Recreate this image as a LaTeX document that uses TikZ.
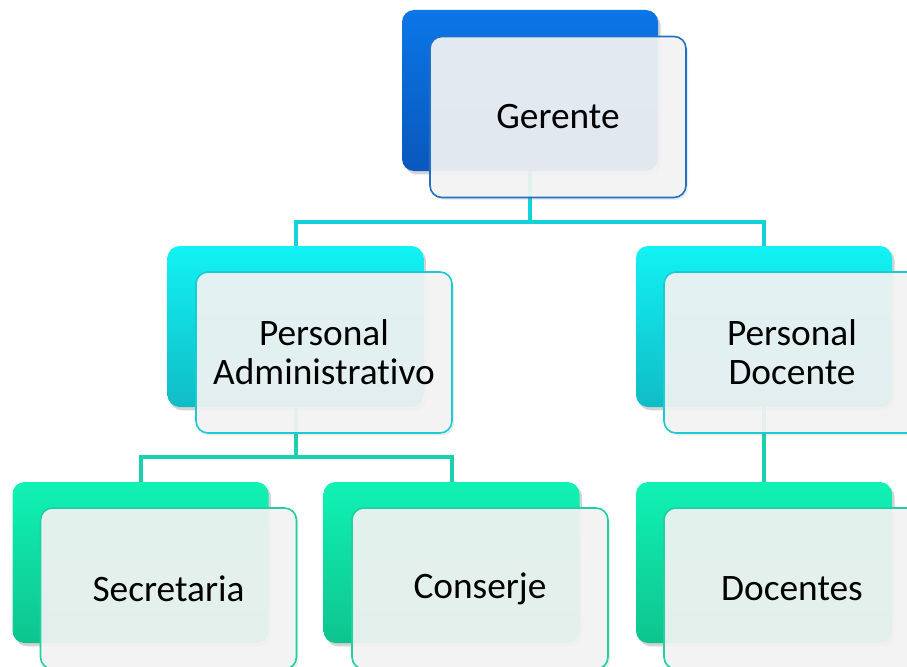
\documentclass[tikz,border=0pt]{standalone}
\usepackage{fontspec}
\setmainfont[Ligatures={NoCommon}]{Carlito}
\usetikzlibrary{shadows}
\definecolor{blueT}{HTML}{0B76E8}
\definecolor{blueB}{HTML}{0A58BC}
\definecolor{cyanT}{HTML}{12F2F4}
\definecolor{cyanB}{HTML}{10BCC6}
\definecolor{greenT}{HTML}{10F2B4}
\definecolor{greenB}{HTML}{0EC48E}
\definecolor{blueL}{HTML}{2070C8}
\definecolor{cyanL}{HTML}{18CCD4}
\definecolor{greenL}{HTML}{20D0A2}
\definecolor{conA}{HTML}{14D2DA}
\definecolor{conB}{HTML}{1CCFAE}
\definecolor{frontfill}{HTML}{F4F4F4}
\pgfdeclarelayer{bg}
\pgfsetlayers{bg,main}
\begin{document}
\begin{tikzpicture}[x=0.75pt,y=-0.75pt,
  box/.style={minimum width=192pt, minimum height=120.75pt, rounded corners=9pt, inner sep=0pt},
  backbox/.style={box, drop shadow={shadow xshift=2pt, shadow yshift=-2.5pt, opacity=0.35}},
  bluebox/.style={backbox, top color=blueT, bottom color=blueB},
  cyanbox/.style={backbox, top color=cyanT, bottom color=cyanB},
  greenbox/.style={backbox, top color=greenT, bottom color=greenB},
  frontbox/.style={box, fill=frontfill, fill opacity=0.92, text opacity=1, line width=1.2pt,
     drop shadow={shadow xshift=1.5pt, shadow yshift=-2pt, opacity=0.15},
     align=center, font=\fontsize{28}{29}\selectfont},
  conn/.style={line width=3pt}
]
\useasboundingbox (0,0) rectangle (907,667);
% back boxes
\node[bluebox]  (gb)  at (530,90.5) {};
\node[cyanbox]  (pab) at (295.5,326.5) {};
\node[cyanbox]  (pdb) at (764,326.5) {};
\node[greenbox] (sb)  at (140.5,562.5) {};
\node[greenbox] (cb)  at (451.5,562.5) {};
\node[greenbox] (db)  at (764,562.5) {};
% front boxes
\node[frontbox, draw=blueL]  (g)  at (558,117) {Gerente};
\node[frontbox, draw=cyanL]  (pa) at (324,352.5) {Personal\\Administrativo};
\node[frontbox, draw=cyanL]  (pd) at (792,352.5) {Personal\\Docente};
\node[frontbox, draw=greenL] (s)  at (168.5,588.5) {Secretaria};
\node[frontbox, draw=greenL] (c)  at (480,588.5) {Conserje};
\node[frontbox, draw=greenL] (d)  at (792,588.5) {Docentes};
% connectors
\begin{pgfonlayer}{bg}
\coordinate (bus1) at (530,222);
\coordinate (bus2) at (295.5,457);
\draw[conn, conA] (gb.center) -- (bus1) -| (pab.north);
\draw[conn, conA] (bus1) -| (pdb.north);
\draw[conn, conB] (pab.center) -- (bus2) -| (sb.north);
\draw[conn, conB] (bus2) -| (cb.north);
\draw[conn, conB] (pdb.center) -- (db.north);
\end{pgfonlayer}
\end{tikzpicture}
\end{document}
